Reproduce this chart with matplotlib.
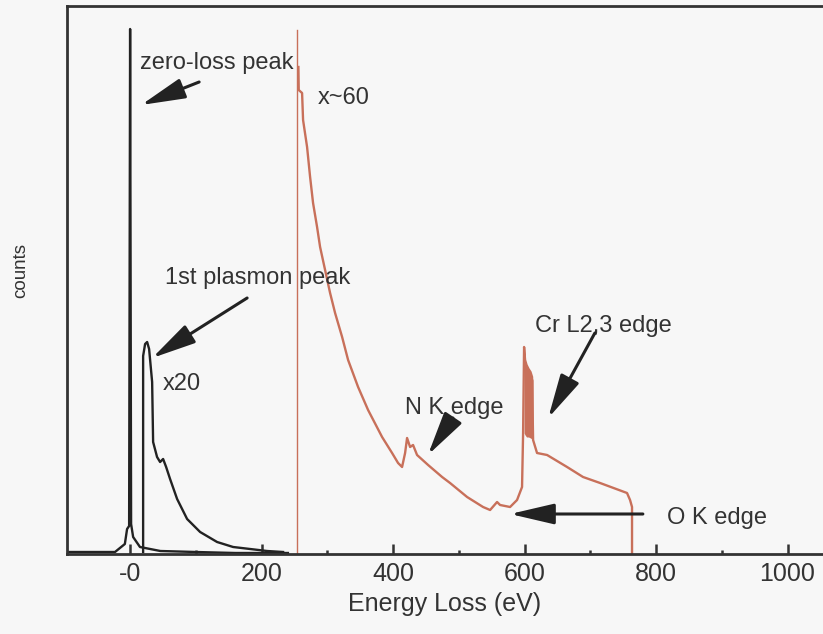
import numpy as np
import matplotlib.pyplot as plt

plt.rcParams['font.family'] = ['Liberation Sans', 'DejaVu Sans']

# zero-loss peak (as recorded)
zl_energy = [-95, -40, -23, -8, -4.6, -1.5, 0, 1.5, 4.6, 15, 46, 100, 160, 240]
zl_counts = [2, 2, 2, 10, 25, 28, 525, 30, 17, 7, 3, 2, 1, 1]

# low-loss region scaled x20 (plasmon)
pl_energy = [19.8, 19.8, 22.8, 25.9, 28.9, 33.5, 35, 41, 45.6, 50.2, 54.8,
             60.8, 71.5, 86.7, 106.5, 132.3, 156.7, 208.4, 232.7]
pl_counts = [2, 198, 210, 212, 205, 172, 112, 97, 92, 95, 87,
             75, 55, 35, 22, 12, 7, 3, 2]

# core-loss region scaled x~60
cl_energy = [256, 256.5, 261.6, 263.1, 269.2, 273.8, 278.3, 284.4, 289.0, 296.6,
             304.2, 311.8, 322.5, 331.6, 346.8, 362.0, 383.3, 398.5, 407.6, 413.7,
             418.3, 421.3, 425.9, 430.4, 436.5, 453.3, 474.6, 486.7, 512.6, 536.9,
             547.6, 558.2, 562.8, 578.0, 588.6, 596.2, 597.8, 599.3, 600.8, 603.0,
             606.0, 609.0, 611.4, 613.0, 619.0, 634.3, 664.7, 689.0, 714.9, 755.9,
             760.5, 763.5, 763.5]
cl_counts = [487, 464, 461, 434, 407, 377, 351, 327, 307, 284,
             261, 241, 217, 194, 167, 144, 117, 101, 91, 87,
             101, 116, 107, 109, 99, 89, 77, 71, 57, 47,
             44, 52, 49, 47, 54, 67, 121, 207, 194, 189,
             185, 182, 177, 114, 101, 99, 87, 77, 71, 61,
             54, 47, 1]

# Cr L2,3 white lines (densely packed)
cr_energy = [599.3, 600.8, 603.0, 606.0, 609.0, 611.4, 613.0]
cr_top = [207, 194, 189, 185, 182, 177, 174]
cr_bottom = [121, 119, 117, 117, 116, 115, 114]

ticks = [0, 200, 400, 600, 800, 1000]
tick_labels = ['-0', '200', '400', '600', '800', '1000']

bg = '#f7f7f7'
ink = '#333333'
red = '#c8705a'

fig = plt.figure(figsize=(8.23, 6.34), dpi=100, facecolor=bg)
ax = fig.add_axes([67 / 823, 80 / 634, 1 - 67 / 823, 548 / 634], facecolor=bg)

ax.plot(zl_energy, zl_counts, color='#222222', lw=1.7)
ax.plot(pl_energy, pl_counts, color='#222222', lw=1.7)
ax.axvline(254, ymax=524 / 548, color=red, lw=1.0)
ax.plot(cl_energy, cl_counts, color=red, lw=1.7)
ax.fill_between(cr_energy, cr_bottom, cr_top, color=red, lw=0)

ax.set_xlim(-96, 1054)
ax.set_ylim(0, 548)

ax.spines['right'].set_visible(False)
for s in ['left', 'top', 'bottom']:
    ax.spines[s].set_color(ink)
    ax.spines[s].set_linewidth(2.0)

ax.set_yticks([])
ax.set_xticks(ticks)
ax.set_xticklabels(tick_labels)
ax.set_xticks([100, 300, 500, 700, 900], minor=True)
ax.tick_params(axis='x', which='major', direction='in', length=7, width=1.8,
               color=ink, labelsize=18, labelcolor=ink, pad=6)
ax.tick_params(axis='x', which='minor', direction='in', length=3, width=1.8, color=ink)
ax.set_xlabel('Energy Loss (eV)', fontsize=18, color=ink, labelpad=4)

fig.text(21 / 823, 1 - 270 / 634, 'counts', rotation=90, ha='center', va='center',
         fontsize=13.5, color=ink)

txt = dict(fontsize=17, color=ink, va='center', ha='left')
ax.text(15, 491, 'zero-loss peak', **txt)
ax.text(286, 456, 'x~60', **txt)
ax.text(53, 276, '1st plasmon peak', **txt)
ax.text(50, 170, 'x20', **txt)
ax.text(418, 146, 'N K edge', **txt)
ax.text(616, 228, 'Cr L2,3 edge', **txt)
ax.text(817, 36, 'O K edge', **txt)

arrow = dict(arrowstyle='-|>,head_length=1.5,head_width=0.35', mutation_scale=18,
             color='#222222', lw=2.2, shrinkA=0, shrinkB=0)
ax.annotate('', xy=(16.7, 449), xytext=(105, 472), arrowprops=arrow)
ax.annotate('', xy=(33.5, 196), xytext=(178, 256), arrowprops=arrow)
ax.annotate('', xy=(453, 99), xytext=(491, 136), arrowprops=arrow)
ax.annotate('', xy=(636, 136), xytext=(707, 221), arrowprops=arrow)
ax.annotate('', xy=(578, 40), xytext=(780, 40), arrowprops=arrow)

fig.savefig('out.png', dpi=100, facecolor=bg)
